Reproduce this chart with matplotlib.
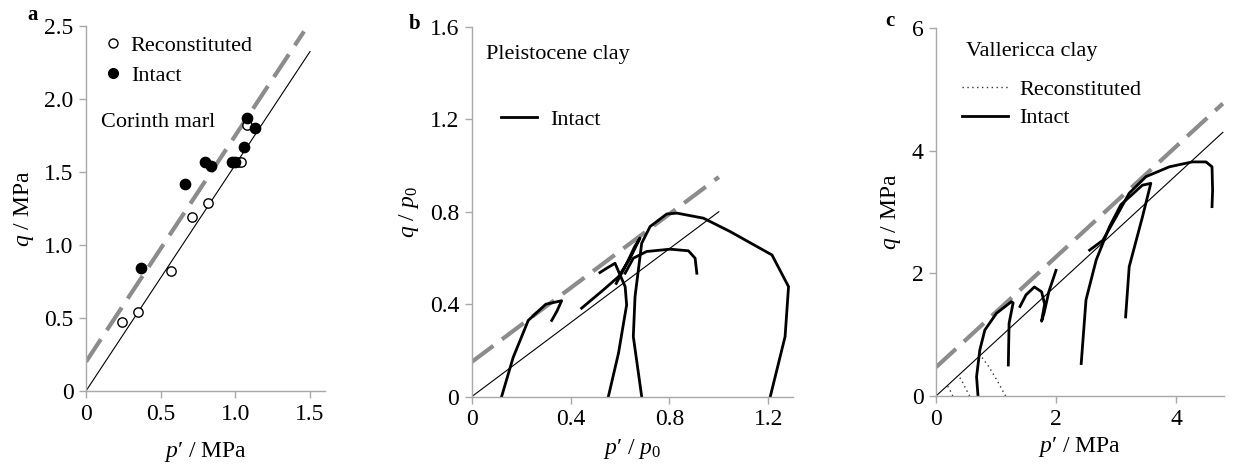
import numpy as np
import matplotlib
matplotlib.use('Agg')
import matplotlib.pyplot as plt
from matplotlib.lines import Line2D

plt.rcParams['font.family'] = ['Liberation Serif', 'DejaVu Serif']
plt.rcParams['mathtext.fontset'] = 'custom'
plt.rcParams['mathtext.rm'] = 'Liberation Serif'
plt.rcParams['mathtext.it'] = 'Liberation Serif:italic'
plt.rcParams['font.size'] = 14

# ---- panel a: Corinth marl ----
recon_p = [0.24, 0.35, 0.57, 0.71, 0.82, 1.02, 1.04, 1.08]
recon_q = [0.47, 0.54, 0.82, 1.19, 1.29, 1.57, 1.57, 1.82]
intact_p = [0.37, 0.66, 0.80, 0.84, 0.98, 1.00, 1.06, 1.08, 1.13]
intact_q = [0.84, 1.42, 1.57, 1.54, 1.57, 1.57, 1.67, 1.87, 1.80]
a_csl = (1.55, 0.0)      # slope, intercept
a_dash = (1.55, 0.2)

# ---- panel b: Pleistocene clay (normalised) ----
b_paths = [
    ([0.121, 0.168, 0.229, 0.30, 0.364, 0.345, 0.324],
     [0.0, 0.17, 0.33, 0.40, 0.415, 0.37, 0.33]),
    ([0.553, 0.594, 0.627, 0.621, 0.58, 0.547, 0.519],
     [0.0, 0.188, 0.397, 0.476, 0.577, 0.556, 0.537]),
    ([0.445, 0.533, 0.594, 0.641, 0.681, 0.66, 0.62, 0.585],
     [0.383, 0.462, 0.519, 0.599, 0.686, 0.65, 0.56, 0.49]),
    ([0.621, 0.654, 0.708, 0.803, 0.877, 0.904, 0.911],
     [0.534, 0.599, 0.628, 0.638, 0.631, 0.599, 0.534]),
    ([0.688, 0.654, 0.661, 0.688, 0.722, 0.789, 0.83, 0.938, 1.046, 1.215, 1.282, 1.268, 1.208],
     [0.0, 0.26, 0.433, 0.664, 0.736, 0.79, 0.794, 0.772, 0.714, 0.613, 0.476, 0.26, 0.0]),
]
b_csl = (0.8, 0.0)
b_dash = (0.8, 0.15)

# ---- panel c: Vallericca clay ----
c_intact = [
    ([0.70, 0.676, 0.73, 0.814, 1.008, 1.257, 1.285, 1.218, 1.205],
     [0.0, 0.315, 0.75, 1.077, 1.35, 1.54, 1.52, 1.186, 0.506]),
    ([1.40, 1.50, 1.64, 1.76, 1.81, 1.76, 1.80, 1.88, 2.0],
     [1.46, 1.65, 1.78, 1.70, 1.50, 1.22, 1.35, 1.70, 2.05]),
    ([2.42, 2.50, 2.67, 2.89, 3.08, 3.44, 3.58, 3.44, 3.22, 3.16],
     [0.53, 1.57, 2.22, 2.76, 3.12, 3.44, 3.47, 2.92, 2.11, 1.29]),
    ([2.56, 2.78, 3.0, 3.22, 3.5, 3.89, 4.27, 4.5, 4.6, 4.61, 4.6],
     [2.38, 2.54, 2.92, 3.31, 3.58, 3.74, 3.82, 3.82, 3.74, 3.36, 3.09]),
]
c_recon = [
    ([0.28, 0.24, 0.19], [0.0, 0.08, 0.17]),
    ([0.56, 0.48, 0.42, 0.37], [0.0, 0.15, 0.27, 0.33]),
    ([1.16, 1.02, 0.88, 0.75], [0.0, 0.25, 0.48, 0.65]),
]
c_csl = (0.9, 0.0)
c_dash = (0.9, 0.47)

fig = plt.figure(figsize=(12.35, 4.67), dpi=100)
ax_a = fig.add_axes([0.0696, 0.1627, 0.1935, 0.7816])
ax_b = fig.add_axes([0.3819, 0.1505, 0.2602, 0.7923])
ax_c = fig.add_axes([0.7579, 0.1520, 0.2332, 0.7874])

spine_col = '#a8a8a8'
dash_col = '#8c8c8c'
fs = 16


def style(ax):
    for s in ['top', 'right']:
        ax.spines[s].set_visible(False)
    for s in ['left', 'bottom']:
        ax.spines[s].set_color(spine_col)
        ax.spines[s].set_linewidth(1.0)
    ax.tick_params(direction='out', length=5, width=1.0, color=spine_col,
                   labelsize=17, pad=4)


def ref_lines(ax, x_end, csl, dash, dash_end=None):
    xs = np.array([0, x_end])
    ax.plot(xs, csl[0] * xs + csl[1], color='black', lw=0.8)
    xd = np.array([0, dash_end if dash_end else x_end])
    ax.plot(xd, dash[0] * xd + dash[1], color=dash_col, lw=3,
            dashes=(6.5, 2.6))


# panel a
style(ax_a)
ref_lines(ax_a, 1.5, a_csl, a_dash, dash_end=1.46)
ax_a.scatter(recon_p, recon_q, s=45, facecolor='white', edgecolor='black',
             linewidth=1.0, zorder=3)
ax_a.scatter(intact_p, intact_q, s=55, color='black', zorder=3)
ax_a.set_xlim(0, 1.6)
ax_a.set_ylim(0, 2.5)
ax_a.set_xticks([0, 0.5, 1.0, 1.5])
ax_a.set_xticklabels(['0', '0.5', '1.0', '1.5'])
ax_a.set_yticks([0, 0.5, 1.0, 1.5, 2.0, 2.5])
ax_a.set_yticklabels(['0', '0.5', '1.0', '1.5', '2.0', '2.5'])
ax_a.set_xlabel("$p$\u2032 / MPa", fontsize=fs + 1, labelpad=11)
ax_a.set_ylabel("$q$ / MPa", fontsize=fs + 1, labelpad=6)
handles_a = [
    Line2D([], [], marker='o', ls='none', mfc='white', mec='black', ms=6.5),
    Line2D([], [], marker='o', ls='none', mfc='black', mec='black', ms=7),
]
ax_a.legend(handles_a, ['Reconstituted', 'Intact'], loc='upper left',
            bbox_to_anchor=(-0.04, 1.03), frameon=False, fontsize=fs,
            handletextpad=0.05, labelspacing=0.45, handlelength=1.5)
ax_a.text(0.10, 1.84, 'Corinth marl', fontsize=fs, va='center')
fig.text(33 / 1235, 1 - 15 / 467, 'a', fontsize=15, fontweight='bold',
         ha='center', va='center')

# panel b
style(ax_b)
ref_lines(ax_b, 1.0, b_csl, b_dash)
for p, q in b_paths:
    ax_b.plot(p, q, color='black', lw=2)
ax_b.set_xlim(0, 1.3)
ax_b.set_ylim(0, 1.6)
ax_b.set_xticks([0, 0.4, 0.8, 1.2])
ax_b.set_xticklabels(['0', '0.4', '0.8', '1.2'])
ax_b.set_yticks([0, 0.4, 0.8, 1.2, 1.6])
ax_b.set_yticklabels(['0', '0.4', '0.8', '1.2', '1.6'])
ax_b.set_xlabel("$p$\u2032 / $p_0$", fontsize=fs + 1, labelpad=5)
ax_b.set_ylabel("$q$ / $p_0$", fontsize=fs + 1, labelpad=6)
ax_b.text(0.06, 1.48, 'Pleistocene clay', fontsize=fs, va='center')
ax_b.legend([Line2D([], [], color='black', lw=2)], ['Intact'],
            loc='upper left', bbox_to_anchor=(0.03, 0.83), frameon=False,
            fontsize=fs, handlelength=1.6, handletextpad=0.6)
fig.text(415 / 1235, 1 - 24 / 467, 'b', fontsize=15, fontweight='bold',
         ha='center', va='center')

# panel c
style(ax_c)
ref_lines(ax_c, 4.78, c_csl, c_dash)
for p, q in c_intact:
    ax_c.plot(p, q, color='black', lw=2)
for p, q in c_recon:
    ax_c.plot(p, q, color='#333333', lw=1, ls=(0, (1, 2.5)))
ax_c.set_xlim(0, 4.8)
ax_c.set_ylim(0, 6)
ax_c.set_xticks([0, 2, 4])
ax_c.set_yticks([0, 2, 4, 6])
ax_c.set_xlabel("$p$\u2032 / MPa", fontsize=fs + 1, labelpad=4)
ax_c.set_ylabel("$q$ / MPa", fontsize=fs + 1, labelpad=6)
ax_c.text(0.5, 5.62, 'Vallericca clay', fontsize=fs, va='center')
ax_c.legend([Line2D([], [], color='#333333', lw=1, ls=(0, (1, 2.5))),
             Line2D([], [], color='black', lw=2)],
            ['Reconstituted', 'Intact'], loc='upper left',
            bbox_to_anchor=(0.02, 0.915), frameon=False, fontsize=fs,
            handlelength=2.1, handletextpad=0.5, labelspacing=0.35)
fig.text(890 / 1235, 1 - 21 / 467, 'c', fontsize=15, fontweight='bold',
         ha='center', va='center')

fig.savefig('out.png', dpi=100)
